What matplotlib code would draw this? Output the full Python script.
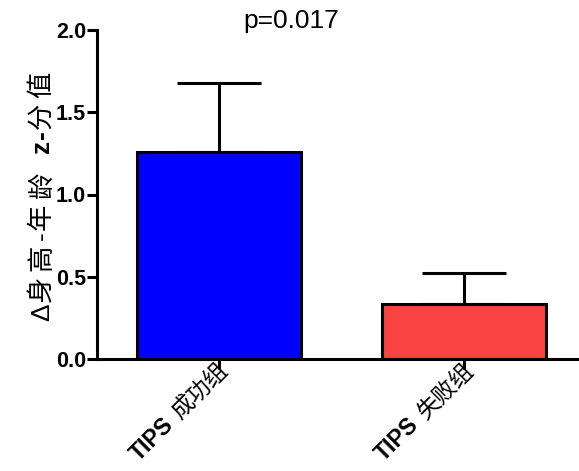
import matplotlib
matplotlib.use('Agg')
import matplotlib.pyplot as plt
import matplotlib.transforms as mtrans
import numpy as np

groups = ['成功组', '失败组']
prefix = 'TIPS'
means = [1.26, 0.335]
sems = [0.42, 0.19]
colors = ['#0000FF', '#F94343']
ylabel_parts = [('Δ身高-年龄 ', 'normal'), ('z-', 'bold'), ('分值', 'normal')]

plt.rcParams['font.family'] = ['Liberation Sans', 'Noto Sans CJK SC']

W, H = 579, 471
fig = plt.figure(figsize=(W / 100, H / 100), dpi=100)
ax = fig.add_axes([97 / W, 1 - 359 / H, 1 - 97 / W, (359 - 30) / H])

x = np.arange(len(groups))
ax.bar(x, means, width=0.67, color=colors, edgecolor='black', linewidth=2.2, zorder=2)
ax.errorbar(x, means, yerr=[[0, 0], sems], fmt='none', ecolor='black',
            elinewidth=2.2, capsize=30, capthick=2.2, zorder=1)

ax.set_xlim(-0.5, 1.47)
ax.set_ylim(0, 2.0)
ax.set_yticks([0.0, 0.5, 1.0, 1.5, 2.0])
ax.set_yticklabels(['0.0', '0.5', '1.0', '1.5', '2.0'], fontsize=15.5, fontweight='bold')
ax.set_xticks(x)
ax.set_xticklabels([])
ax.tick_params(axis='both', width=2.2, length=7, direction='out')
ax.tick_params(axis='y', pad=1)

for s in ['top', 'right']:
    ax.spines[s].set_visible(False)
for s in ['left', 'bottom']:
    ax.spines[s].set_linewidth(2.2)

fig.canvas.draw()
renderer = fig.canvas.get_renderer()


def text_width(s, size, weight):
    t = fig.text(0, 0, s, fontsize=size, fontweight=weight)
    w = t.get_window_extent(renderer).width
    t.remove()
    return w


# x tick labels: bold "TIPS" + regular Chinese, rotated 45 degrees
fs = 16.5
dx, dy = 10, -13
c = np.cos(np.radians(45))
for i, g in enumerate(groups):
    base = ax.get_xaxis_transform()
    tr = base + mtrans.ScaledTranslation(dx / 100, dy / 100, fig.dpi_scale_trans)
    ax.text(i, 0, g, fontsize=fs, rotation=45, rotation_mode='anchor',
            ha='right', va='baseline', transform=tr, clip_on=False)
    d = text_width(g, fs, 'normal') + text_width(' ', fs, 'normal') + 2
    tr2 = base + mtrans.ScaledTranslation((dx - d * c) / 100, (dy - d * c) / 100,
                                          fig.dpi_scale_trans)
    ax.text(i, 0, prefix, fontsize=fs, fontweight='bold', rotation=45,
            rotation_mode='anchor', ha='right', va='baseline', transform=tr2,
            clip_on=False)

# y label built char by char so "z-" can be bold and CJK letters spaced out
yfs = 19
chars = [(ch, w) for s, w in ylabel_parts for ch in s]
widths = []
gaps = []
for ch, w in chars:
    if ch == ' ':
        widths.append(text_width('a a', yfs, w) - text_width('aa', yfs, w) + 6)
    else:
        widths.append(text_width(ch, yfs, w))
    gaps.append(5 if ord(ch) > 0x2E80 else 1)
total = sum(widths) + sum(gaps[:-1])
ypos = 196 + total / 2
for (ch, w), wd, gp in zip(chars, widths, gaps):
    if ch != ' ':
        fig.text(49 / W, 1 - ypos / H, ch, fontsize=yfs, fontweight=w, rotation=90,
                 rotation_mode='anchor', ha='left', va='baseline')
    ypos -= wd + gp

fig.text(291 / W, 1 - 21 / H, 'p=0.017', fontsize=19, ha='center', va='center')

fig.savefig('out.png', dpi=100)
